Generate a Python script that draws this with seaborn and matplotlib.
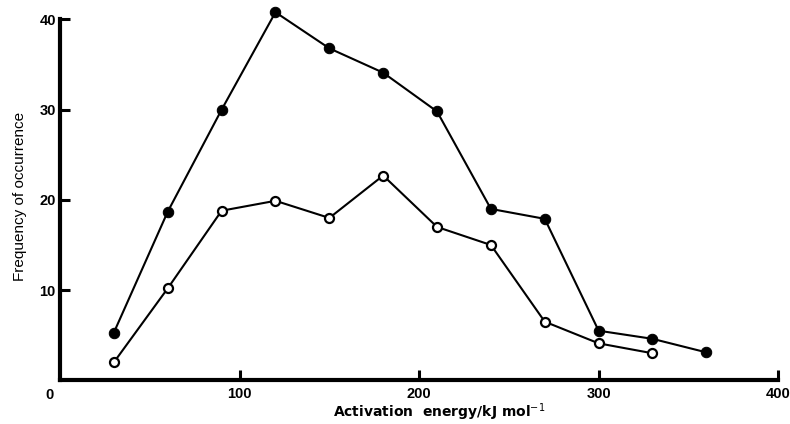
# Activation energy distribution - filled vs open series
import pandas as pd
import seaborn as sns
import matplotlib
matplotlib.use('Agg')
import matplotlib.pyplot as plt

# ------------------------------------------------
# Data

energy_filled = [30, 60, 90, 120, 150, 180, 210, 240, 270, 300, 330, 360]
freq_filled = [5.3, 18.7, 30.0, 40.8, 36.8, 34.1, 29.8, 19.0, 17.9, 5.5, 4.6, 3.1]

energy_open = [30, 60, 90, 120, 150, 180, 210, 240, 270, 300, 330]
freq_open = [2.0, 10.2, 18.8, 19.9, 18.0, 22.7, 17.0, 15.0, 6.5, 4.1, 3.0]

x_ticks = [100, 200, 300, 400]
y_ticks = [10, 20, 30, 40]

# ------------------------------------------------

sns.set_theme(style='ticks', rc={'text.color': 'black',
                                 'axes.labelcolor': 'black',
                                 'axes.edgecolor': 'black',
                                 'xtick.color': 'black',
                                 'ytick.color': 'black'})
plt.rcParams['font.family'] = ['Liberation Sans', 'DejaVu Sans']

fig = plt.figure(figsize=(7.9, 4.24), dpi=100)
ax = fig.add_axes([0.076, 0.103, 0.909, 0.883])

sns.lineplot(x=energy_filled, y=freq_filled, ax=ax, color='black',
             linewidth=1.5, marker='o', markersize=7.5,
             markerfacecolor='black', markeredgecolor='black')
sns.lineplot(x=energy_open, y=freq_open, ax=ax, color='black',
             linewidth=1.5, marker='o', markersize=6.5,
             markerfacecolor='white', markeredgecolor='black',
             markeredgewidth=1.6)

ax.set_xlim(0, 400)
ax.set_ylim(0, 41.5)
ax.set_xticks(x_ticks)
ax.set_yticks(y_ticks)

for side in ['top', 'right']:
    ax.spines[side].set_visible(False)
ax.spines['left'].set_bounds(0, 40)
ax.spines['left'].set_linewidth(3)
ax.spines['bottom'].set_linewidth(3)

ax.tick_params(axis='both', direction='in', width=2.2, length=7,
               labelsize=10.5, colors='black')
ax.tick_params(axis='x', pad=5)
ax.tick_params(axis='y', pad=3)
for lbl in ax.get_xticklabels() + ax.get_yticklabels():
    lbl.set_fontweight('bold')

# shared origin label
ax.text(-6, -0.02, '0', transform=ax.get_xaxis_transform(),
        ha='center', va='top', fontsize=10.5, fontweight='bold')

ax.set_xlabel('Activation  energy/kJ mol$^{-1}$', fontsize=10,
              fontweight='bold', family=['DejaVu Sans'])
ax.xaxis.set_label_coords(0.528, -0.057)
ax.set_ylabel('Frequency of occurrence', fontsize=11)
ax.yaxis.set_label_coords(-0.046, 0.49)

fig.savefig('out.png', dpi=100)
